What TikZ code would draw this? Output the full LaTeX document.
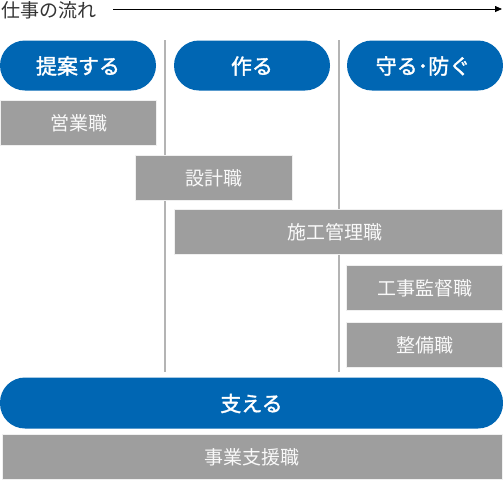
\documentclass[tikz,border=0pt]{standalone}
\usepackage{fontspec}
\newfontfamily\cjk{Noto Sans CJK JP}
\newfontfamily\cjkm[FakeBold=1.6]{Noto Sans CJK JP}
\usetikzlibrary{arrows.meta}
\definecolor{pblue}{HTML}{0066B3}
\definecolor{gbox}{HTML}{9E9E9E}
\definecolor{vline}{HTML}{B4B4B4}
\definecolor{titlec}{HTML}{333333}
\tikzset{
  pill/.style={fill=pblue, rounded corners=25pt, inner sep=0pt},
  pilltext/.style={text=white, font=\cjkm\fontsize{21}{24}\selectfont, inner sep=0pt},
  gray/.style={fill=gbox, draw=white!85!gbox, line width=0.8pt},
  graytext/.style={text=white!94!gbox, font=\cjk\fontsize{19}{22}\selectfont, inner sep=0pt},
  sep/.style={draw=vline, line width=1.5pt},
}
\begin{document}
\begin{tikzpicture}[x=1pt,y=-1pt]
\useasboundingbox (0,0) rectangle (503,480);
% title and arrow
\node[anchor=west, inner sep=0pt, text=titlec, font=\cjk\fontsize{19}{22}\selectfont] (title) at (1,10) {仕事の流れ};
\coordinate (astart) at (113,9);
\coordinate (aend) at (502,9);
\draw[line width=0.8pt, -{Triangle[length=7pt,width=6pt]}] (astart) -- (aend);
% separators
\coordinate (s1t) at (165,40); \coordinate (s1b) at (165,372);
\coordinate (s2t) at (339,40); \coordinate (s2b) at (339,372);
\draw[sep] (s1t) -- (s1b);
\draw[sep] (s2t) -- (s2b);
% pills
\path[pill] (0,40.5) rectangle (156,90.5);
\node[pilltext] (p1) at (78,66) {提案する};
\path[pill] (174,40.5) rectangle (330,90.5);
\node[pilltext] (p2) at (252,66) {作る};
\path[pill] (347,40.5) rectangle (503,90.5);
\node[pilltext] (p3) at (423,66) {守る･防ぐ};
% gray boxes
\path[gray] (0,100) rectangle (156,145);
\node[graytext] (g1) at (79,123) {営業職};
\path[gray] (135,155.5) rectangle (292.5,200.5);
\node[graytext] (g2) at (213.5,178.5) {設計職};
\path[gray] (174,209.5) rectangle (502.5,254.5);
\node[graytext] (g3) at (335,232.5) {施工管理職};
\path[gray] (346.5,265) rectangle (502.5,310);
\node[graytext] (g4) at (424.5,288) {工事監督職};
\path[gray] (346.5,322.5) rectangle (502.5,367.5);
\node[graytext] (g5) at (424.5,345.5) {整備職};
% support
\path[pill] (0,377.5) rectangle (503,428.5);
\node[pilltext] (p4) at (251.5,403.5) {支える};
\path[gray] (2,434) rectangle (502.5,479.5);
\node[graytext] (g6) at (252,457.5) {事業支援職};
\end{tikzpicture}
\end{document}
